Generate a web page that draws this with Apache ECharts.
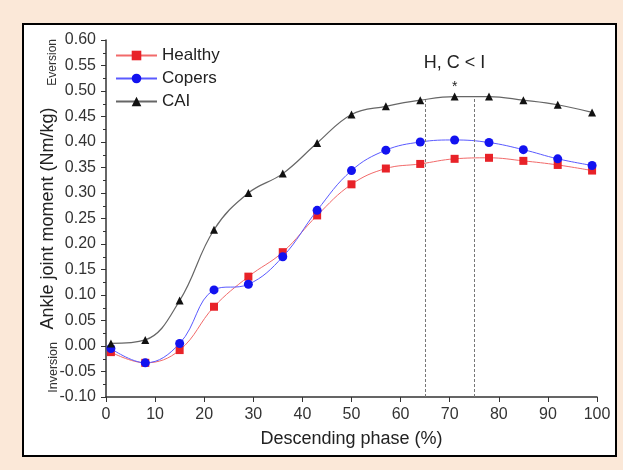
<!DOCTYPE html>
<html>
<head>
<meta charset="utf-8">
<script src="https://cdn.jsdelivr.net/npm/echarts@6/dist/echarts.min.js"></script>
<style>
  html, body { margin: 0; padding: 0; background: #fbe8d8; }
  #chart { width: 623px; height: 470px; }
</style>
</head>
<body>
<div id="chart"></div>
<script>
// 下降阶段 (%)
const phase = [1, 8, 15, 22, 29, 36, 43, 50, 57, 64, 71, 78, 85, 92, 99]
// 踝关节力矩 (Nm/kg)
const healthy = [-0.012, -0.033, -0.008, 0.077, 0.136, 0.184, 0.256, 0.317, 0.348, 0.357, 0.367, 0.369, 0.363, 0.355, 0.344]
const copers = [-0.005, -0.033, 0.005, 0.110, 0.121, 0.175, 0.266, 0.344, 0.384, 0.400, 0.404, 0.399, 0.385, 0.367, 0.354]
const cai = [0.005, 0.012, 0.089, 0.228, 0.300, 0.338, 0.398, 0.454, 0.470, 0.482, 0.489, 0.489, 0.482, 0.473, 0.458]
// 显著性区间
const sigStart = 65
const sigEnd = 75
const sigTopStart = 0.482
const sigTopEnd = 0.489

const font = '"Liberation Sans", Arial, sans-serif'

function pairs(ys) {
  return phase.map((x, i) => [x, ys[i]])
}

const chart = echarts.init(document.getElementById('chart'))

const option = {
  animation: false,
  backgroundColor: 'transparent',
  textStyle: { fontFamily: font },
  graphic: [
    { // 外框
      type: 'rect', z: -10, silent: true,
      shape: { x: 23, y: 24, width: 593, height: 432 },
      style: { fill: '#fff', stroke: '#000', lineWidth: 2 }
    },
    {
      type: 'text', left: 47, top: 39, rotation: Math.PI / 2,
      style: { text: 'Eversion', font: '12px ' + font, fill: '#333' }
    },
    {
      type: 'text', left: 47, top: 342, rotation: Math.PI / 2,
      style: { text: 'Inversion', font: '12.5px ' + font, fill: '#333' }
    }
  ],
  legend: {
    orient: 'vertical',
    left: 110,
    top: 42,
    itemWidth: 41,
    itemHeight: 12,
    itemGap: 6,
    textStyle: { fontSize: 17, color: '#222', fontFamily: font },
    data: ['Healthy', 'Copers', 'CAI']
  },
  grid: { left: 106, right: 26, top: 40, bottom: 73 },
  xAxis: {
    type: 'value',
    min: 0, max: 100, interval: 10,
    name: 'Descending phase (%)',
    nameLocation: 'middle',
    nameGap: 33,
    nameTextStyle: { fontSize: 18, color: '#222' },
    axisLine: { onZero: false, lineStyle: { color: '#333', width: 1.5 } },
    axisTick: { length: 5, lineStyle: { color: '#333' } },
    axisLabel: { fontSize: 16, color: '#333', margin: 10 },
    splitLine: { show: false }
  },
  yAxis: {
    type: 'value',
    min: -0.1, max: 0.6, interval: 0.05,
    name: 'Ankle joint moment (Nm/kg)',
    nameLocation: 'middle',
    nameGap: 49,
    nameMoveOverlap: false,
    nameTextStyle: { fontSize: 18, color: '#222' },
    axisLine: { show: true, onZero: false, lineStyle: { color: '#333', width: 1.5 } },
    axisTick: { length: 5, lineStyle: { color: '#333' } },
    minorTick: { show: true, splitNumber: 2, length: 3, lineStyle: { color: '#333' } },
    axisLabel: {
      fontSize: 16, color: '#333', margin: 10,
      formatter: v => v.toFixed(2)
    },
    splitLine: { show: false }
  },
  series: [
    {
      name: 'Healthy',
      type: 'line',
      data: pairs(healthy),
      smooth: 0.4,
      symbol: 'rect',
      symbolSize: 8,
      itemStyle: { color: '#e82228' },
      lineStyle: { color: '#f26a6a', width: 1 },
      z: 3
    },
    {
      name: 'Copers',
      type: 'line',
      data: pairs(copers),
      smooth: 0.4,
      symbol: 'circle',
      symbolSize: 9,
      itemStyle: { color: '#1212f0' },
      lineStyle: { color: '#5a5aff', width: 1 },
      z: 4
    },
    {
      name: 'CAI',
      type: 'line',
      data: pairs(cai),
      smooth: 0.4,
      symbol: 'triangle',
      symbolSize: 8,
      itemStyle: { color: '#111' },
      lineStyle: { color: '#666', width: 1.2 },
      z: 5,
      markLine: {
        silent: true,
        symbol: 'none',
        label: { show: false },
        lineStyle: { color: '#777', type: [3, 2], width: 1 },
        data: [
          [{ coord: [sigStart, -0.1] }, { coord: [sigStart, sigTopStart] }],
          [{ coord: [sigEnd, -0.1] }, { coord: [sigEnd, sigTopEnd] }]
        ]
      },
      markPoint: {
        silent: true,
        symbol: 'circle',
        symbolSize: 0,
        data: [
          {
            coord: [71, 0.554],
            label: { show: true, formatter: 'H, C < I', fontSize: 18, color: '#222', position: 'inside' }
          },
          {
            coord: [71, 0.508],
            label: { show: true, formatter: '*', fontSize: 14, color: '#222', position: 'inside' }
          }
        ]
      }
    }
  ]
}

chart.setOption(option)
</script>
</body>
</html>
